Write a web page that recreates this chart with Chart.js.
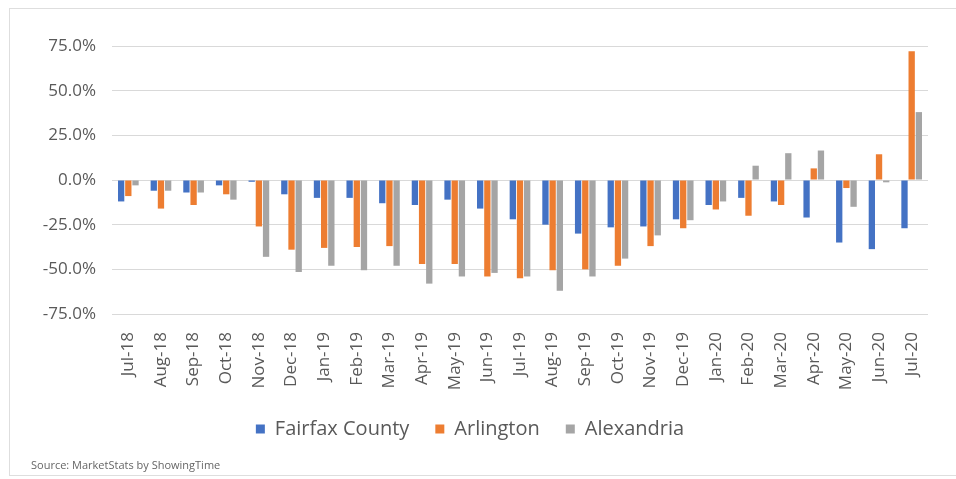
<!DOCTYPE html>
<html>
<head>
<meta charset="utf-8">
<script src="https://cdn.jsdelivr.net/npm/chart.js@4/dist/chart.umd.min.js"></script>
<style>
    html, body { margin: 0; padding: 0; background: #fff; }
    #wrap { position: relative; width: 956px; height: 479px; }
    #frame { position: absolute; left: 9px; top: 8px; right: -4px; bottom: 3px; border: 1px solid #dedede; }
    #chart { position: absolute; left: 0; top: 0; }
    #source { position: absolute; left: 31px; top: 457px; font: 11px "Open Sans", sans-serif; color: #666; }
</style>
</head>
<body>
<div id="wrap">
    <div id="frame"></div>
    <canvas id="chart" width="956" height="479"></canvas>
    <div id="source">Source: MarketStats by ShowingTime</div>
</div>
<script>
const months = ['Jul-18', 'Aug-18', 'Sep-18', 'Oct-18', 'Nov-18', 'Dec-18', 'Jan-19', 'Feb-19', 'Mar-19',
    'Apr-19', 'May-19', 'Jun-19', 'Jul-19', 'Aug-19', 'Sep-19', 'Oct-19', 'Nov-19', 'Dec-19',
    'Jan-20', 'Feb-20', 'Mar-20', 'Apr-20', 'May-20', 'Jun-20', 'Jul-20'];

const fairfax = [-12, -6, -7, -3, -1, -8, -10, -10, -13, -14, -11, -16, -22, -25, -30, -26.5, -26, -22,
    -14, -10, -12, -21, -35, -38.7, -27];
const arlington = [-9, -16, -14, -8, -26, -39, -38, -37.5, -37, -47, -47, -54, -55, -50.5, -50, -48, -37, -27,
    -16.5, -20, -14, 6.5, -4.5, 14.4, 72];
const alexandria = [-3, -6, -7, -11, -43, -51.5, -48, -50.5, -48, -58, -54, -52, -54, -62, -54, -44, -31, -22.5,
    -12, 8, 15, 16.5, -15, -1.3, 38];

const yTicks = [-75, -50, -25, 0, 25, 50, 75];

const font = "'Open Sans', sans-serif";

function series(label, data, color) {
    return {
        label,
        data,
        backgroundColor: color,
        borderWidth: 0,
        barPercentage: 0.88,
        categoryPercentage: 0.66
    };
}

new Chart(document.getElementById('chart'), {
    type: 'bar',
    data: {
        labels: months,
        datasets: [
            series('Fairfax County', fairfax, '#4472C4'),
            series('Arlington', arlington, '#ED7D31'),
            series('Alexandria', alexandria, '#A5A5A5')
        ]
    },
    options: {
        responsive: false,
        animation: false,
        layout: {
            padding: {left: 12, right: 28, top: 46, bottom: 30}
        },
        plugins: {
            tooltip: {enabled: false},
            legend: {
                position: 'bottom',
                labels: {
                    boxWidth: 9,
                    boxHeight: 9,
                    padding: 26,
                    color: '#595959',
                    font: {family: font, size: 20}
                }
            }
        },
        scales: {
            x: {
                grid: {display: false},
                border: {display: false},
                ticks: {
                    minRotation: 90,
                    maxRotation: 90,
                    autoSkip: false,
                    padding: 10,
                    color: '#595959',
                    font: {family: font, size: 17}
                },
                afterFit: (scale) => { scale.height = 79; }
            },
            y: {
                min: -75,
                max: 75,
                afterBuildTicks: (scale) => { scale.ticks = yTicks.map(v => ({value: v})); },
                grid: {color: '#d9d9d9', drawTicks: false},
                border: {display: false},
                ticks: {
                    padding: 16,
                    color: '#595959',
                    font: {family: font, size: 17},
                    callback: (v) => v.toFixed(1) + '%'
                },
                afterFit: (scale) => { scale.width = 100; }
            }
        }
    }
});
</script>
</body>
</html>
